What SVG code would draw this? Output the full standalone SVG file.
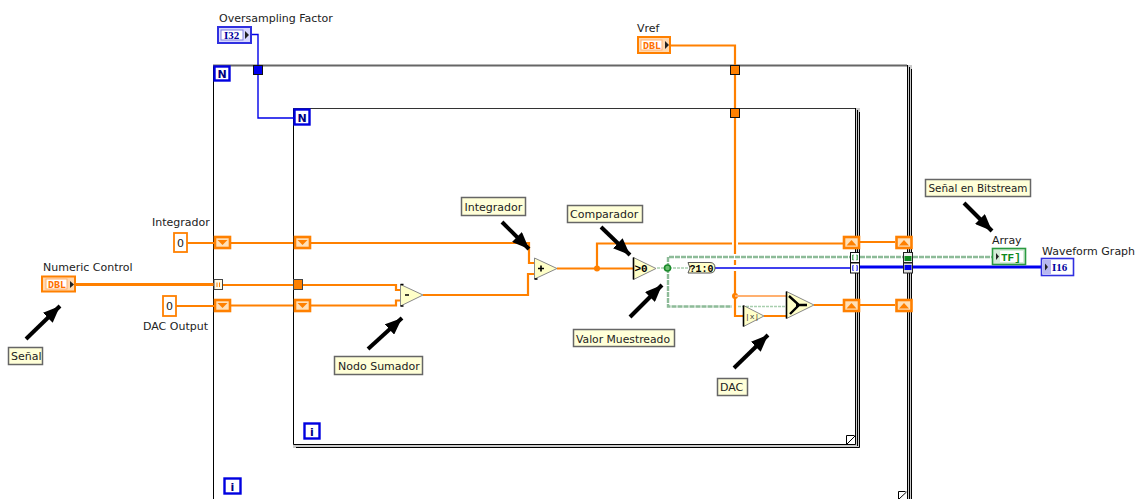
<svg xmlns="http://www.w3.org/2000/svg" width="1141" height="499" viewBox="0 0 1141 499">
<style>
.t{font-family:"DejaVu Sans","Noto Sans",sans-serif;font-size:11px;fill:#222}
.n{fill:#ffffd8;stroke:#666;stroke-width:1.5}
.or{fill:none;stroke:#ff8000;stroke-width:2.2}
.orb{fill:none;stroke:#ff8000;stroke-width:3}
.pale{fill:none;stroke:#ffb070;stroke-width:2}
.bl{fill:none;stroke:#0000e8;stroke-width:1.4}
.blb{fill:none;stroke:#0000f0;stroke-width:3}
.gr{fill:none;stroke:#8dbb98;stroke-width:2.4;stroke-dasharray:5 1}
.gr2{fill:none;stroke:#a8cfae;stroke-width:1.6;stroke-dasharray:3 1}
.gap{fill:none;stroke:#fff;stroke-width:4}
.arr{fill:none;stroke:#000;stroke-width:4;marker-end:url(#ah)}
.tri{fill:#ffffc8;stroke:#888;stroke-width:1}
.tk{fill:none;stroke:#000;stroke-width:1.6}
.ic{font-family:"Liberation Mono",monospace;font-weight:700;font-size:10px}
.is{font-family:"Liberation Serif",serif;font-weight:700;font-size:11px}
.lb{fill:none;stroke:#000}
.lg{fill:#ccc}
.nb{fill:#fff;stroke:#0000e0;stroke-width:2.4}
.nt{font-family:"DejaVu Sans",sans-serif;font-weight:700;font-size:11px;fill:#000080}
</style>
<defs>
<marker id="ah" markerUnits="userSpaceOnUse" markerWidth="18" markerHeight="14" refX="17" refY="7" orient="auto"><polygon points="0,0 17,7 0,14" fill="#000"/></marker>
<g id="srd"><rect x="1" y="1" width="15" height="11" fill="#ffe0b8" stroke="#ff8000" stroke-width="2.6"/><polygon points="3.5,4 13.5,4 8.5,9" fill="#ff8000"/></g>
<g id="sru"><rect x="1" y="1" width="15" height="11" fill="#ffe0b8" stroke="#ff8000" stroke-width="2.6"/><polygon points="3.5,9.5 13.5,9.5 8.5,4" fill="#ff8000"/></g>
</defs>

<g id="outer-loop">
<rect x="907" y="65" width="5" height="434" class="lg"/>
<path class="lb" d="M213.5 499V65.5"/><path d="M213 65.5H907" stroke="#666" stroke-width="2"/>
<path class="lb" d="M907.5 65V499M909.5 67V499M911.5 69V499"/>
<path class="lb" d="M905.5 491.5H898.5V499M906.5 492L899 499"/>
<g id="loop-n-outer"><rect class="nb" x="214.5" y="66.5" width="15" height="14"/><text class="nt" x="222" y="78" text-anchor="middle">N</text></g>
<g id="loop-i-outer"><rect class="nb" x="224.5" y="478.5" width="16" height="15"/><text class="nt" x="232.500" y="491" text-anchor="middle">i</text></g>
</g>

<g id="inner-loop">
<rect x="855" y="108" width="5" height="340" class="lg"/><rect x="293" y="444" width="567" height="4" class="lg"/>
<path class="lb" d="M293.5 444.500V108.500"/><path d="M293 108.500H855" stroke="#333" stroke-width="1.2"/>
<path class="lb" d="M855.5 108V444.500H293.500M857.500 110V446M859.500 112V447.500H296"/>
<path class="lb" d="M854.500 435.500H846.500V444M855 436L847 444"/>
<g id="loop-n-inner"><rect class="nb" x="294.500" y="109.500" width="15" height="15"/><text class="nt" x="302" y="121.500" text-anchor="middle">N</text></g>
<g id="loop-i-inner"><rect class="nb" x="304.500" y="423.500" width="15" height="15"/><text class="nt" x="312" y="436" text-anchor="middle">i</text></g>
</g>

<g id="connectors">
<path class="bl" d="M250 34.500H258V118H294"/>
<path class="or" d="M670 45.500H735V316H743"/>
<path class="or" d="M187 243H214M231 243H293M311 243H529V263H534"/>
<path class="orb" d="M76 284.500H214"/>
<path class="or" d="M222 285H293M302 285H396V290H400"/>
<path class="or" d="M176 306H214M231 305.500H293M311 305.500H396V300.500H400"/>
<path class="or" d="M423 295H528V274H534"/>
<path class="or" d="M557 268.500H633"/>
<path class="or" d="M597 268.500V243.500H732M738 243.500H843M860 242H895"/>
<circle cx="597" cy="268.500" r="3" fill="#ff8000"/>
<circle cx="735" cy="296" r="3" fill="#ff8000"/>
<path class="pale" d="M735 296H786"/>
<path class="or" d="M764 316H786M814 305H843M860 305H895"/>
<path class="gap" d="M735 254V260M735 265V271"/>
<path class="gr" d="M668 268V257H850M860 257H903M913 257H992"/>
<path class="gr" d="M668 268V306.500H732"/>
<path class="gr2" d="M738 306.500H786"/>
<path class="gr2" d="M657 268H688"/>
<circle cx="667.500" cy="268" r="3" fill="#6cbf70" stroke="#1a8a2a" stroke-width="1.6"/>
<path class="bl" d="M715 268H850"/>
<path class="blb" d="M860 267H1041"/>
<g id="arrows">
<path class="arr" d="M26 339L60 306"/>
<path class="arr" d="M502 222L529 249"/>
<path class="arr" d="M368 349L402 318"/>
<path class="arr" d="M601 227L630 255"/>
<path class="arr" d="M630 317L662 285"/>
<path class="arr" d="M734 368L768 335"/>
<path class="arr" d="M964 203L992 231"/>
</g>
</g>

<g id="oversampling-factor"><rect x="218" y="27" width="33" height="16" fill="#d8d8ff" stroke="#3030e0" stroke-width="2"/><rect x="221" y="30" width="22" height="10" fill="#fff" stroke="#8080e0"/><text class="is" x="224" y="38.500" fill="#0000a0">I32</text><polygon points="245,31 249,35 245,39" fill="#222"/><text class="t" x="219" y="21.500">Oversampling Factor</text></g>
<g id="vref"><rect x="638" y="37" width="32" height="16" fill="#ffd8b0" stroke="#ff8000" stroke-width="2"/><rect x="641" y="40" width="21" height="10" fill="#fff" stroke="#ffb070"/><text class="ic" x="643" y="48.500" fill="#ff7000">DBL</text><polygon points="665,41 669,45 665,49" fill="#222"/><text class="t" x="637" y="31.500">Vref</text></g>
<g id="numeric-control"><rect x="42" y="276.500" width="33" height="15" fill="#ffd8b0" stroke="#ff8000" stroke-width="2"/><rect x="46" y="279" width="21" height="10" fill="#fff" stroke="#ffb070"/><text class="ic" x="48" y="288" fill="#ff7000">DBL</text><polygon points="70,281 74,284.500 70,288" fill="#222"/><text class="t" x="43" y="270.500">Numeric Control</text></g>
<g id="integrador-const"><rect x="174" y="233" width="13" height="19" fill="#fff" stroke="#ff8000" stroke-width="1.8"/><text class="t" x="180.500" y="247" text-anchor="middle">0</text><text class="t" x="152" y="226">Integrador</text></g>
<g id="dac-output-const"><rect x="163" y="296" width="13" height="20" fill="#fff" stroke="#ff8000" stroke-width="1.8"/><text class="t" x="169.500" y="310" text-anchor="middle">0</text><text class="t" x="143" y="329.500">DAC Output</text></g>

<g id="shift-registers">
<use href="#srd" x="214" y="236"/><use href="#srd" x="294" y="236"/>
<use href="#srd" x="214" y="299"/><use href="#srd" x="294" y="299"/>
<use href="#sru" x="843" y="236"/><use href="#sru" x="895.500" y="236"/>
<use href="#sru" x="843" y="299"/><use href="#sru" x="895.500" y="299"/>
</g>
<g id="tunnels">
<rect x="214" y="279.500" width="8.500" height="10" fill="#fffce8" stroke="#444"/><path d="M217 282.500V287M219.500 282.500V287" stroke="#ff8000"/>
<rect x="293.500" y="279.500" width="9" height="10" fill="#ff8000" stroke="#444"/>
<rect x="253.500" y="65.500" width="9" height="9" fill="#0000f0" stroke="#111"/>
<rect x="730.500" y="65.500" width="9" height="9" fill="#ff8000" stroke="#111"/>
<rect x="730.500" y="108.500" width="9" height="9" fill="#ff8000" stroke="#111"/>
<rect x="850.500" y="252.500" width="9" height="10" fill="#fff" stroke="#111"/><path d="M853.500 255H852.800V260H853.500M856.500 255H857.200V260H856.500" stroke="#108a20" fill="none"/>
<rect x="850.500" y="263" width="9" height="10" fill="#fff" stroke="#111"/><path d="M853.500 265.500H852.800V270.500H853.500M856.500 265.500H857.200V270.500H856.500" stroke="#0000f0" fill="none"/>
<rect x="903.500" y="252.500" width="9" height="10" fill="#eee" stroke="#222"/><rect x="904.500" y="256" width="7" height="5" fill="#108a20"/>
<rect x="903.500" y="263" width="9" height="10" fill="#ddd" stroke="#222"/><rect x="904.500" y="265" width="7" height="5" fill="#0000f0"/>
</g>

<g id="subtract"><polygon class="tri" points="400.500,284.500 423,295 400.500,306"/><path class="tk" d="M400.500 284.500h3M400.500 306h3"/><path d="M405 295h4" stroke="#000" stroke-width="1.500"/></g>
<g id="add"><polygon class="tri" points="534.500,258 557,268.500 534.500,279"/><path class="tk" d="M534.500 279h3"/><path d="M538 268.500h6M541 265.500v6" stroke="#000" stroke-width="1.600"/></g>
<g id="compare"><polygon class="tri" points="633.500,257.500 656,268.500 633.500,279.500"/><path class="tk" d="M633.500 257.500V279.500"/><text class="ic" x="634.500" y="272" fill="#000" style="font-size:11px">&gt;0</text></g>
<g id="bool-to-int"><path d="M688 262.500H710Q715 262.500 715 268Q715 273 710 273H688L690 268Z" fill="#ffffc8" stroke="#555"/><text class="ic" x="689.500" y="271.500" fill="#000" style="font-size:10px">?1:0</text></g>
<g id="abs"><polygon class="tri" points="743.500,305.500 764,316 743.500,326.500"/><path class="tk" d="M743.500 305.500V326.500"/><text class="ic" x="745" y="319" fill="#333" style="font-size:8px;font-weight:400">|x|</text></g>
<g id="select"><polygon class="tri" points="786.500,291.500 814,305 786.500,318.500"/><path class="tk" d="M786.500 291.500V318.500"/><path d="M789 296L799 305L790 314M796 305H807" fill="none" stroke="#000" stroke-width="2.4"/></g>
<g id="array-indicator"><rect x="992.500" y="248.500" width="33" height="16" fill="#d4ecd8" stroke="#2a9a40" stroke-width="1.600"/><rect x="1000" y="251" width="23" height="11" fill="#fff"/><text class="ic" x="1001" y="260.500" fill="#108a20" style="font-size:11px">TF]</text><polygon points="996,253 999,256.500 996,260" fill="#222"/><text class="t" x="992" y="244">Array</text></g>
<g id="waveform-graph"><rect x="1041.500" y="258.500" width="32" height="17" fill="#fff" stroke="#3030e0" stroke-width="1.600"/><rect x="1043" y="260" width="8" height="14" fill="#b8b8f0"/><text class="is" x="1052" y="271" fill="#0000a0">I16</text><polygon points="1045,263.500 1048,267 1045,270.500" fill="#222"/><text class="t" x="1042" y="255">Waveform Graph</text></g>

<g id="note-senal"><rect class="n" x="8.500" y="347.500" width="34" height="17"/><text class="t" x="11" y="360">Señal</text></g>
<g id="note-nodo"><rect class="n" x="334.500" y="356.500" width="88" height="18"/><text class="t" x="338" y="369.500">Nodo Sumador</text></g>
<g id="note-integrador"><rect class="n" x="461.500" y="197.500" width="64" height="18"/><text class="t" x="464.500" y="210.500">Integrador</text></g>
<g id="note-comparador"><rect class="n" x="567.500" y="205.500" width="75" height="17"/><text class="t" x="570" y="218">Comparador</text></g>
<g id="note-valor"><rect class="n" x="573.500" y="329.500" width="101" height="17"/><text class="t" x="576" y="342.500" textLength="94" lengthAdjust="spacingAndGlyphs">Valor Muestreado</text></g>
<g id="note-dac"><rect class="n" x="717.500" y="378.500" width="30" height="17"/><text class="t" x="720" y="391">DAC</text></g>
<g id="note-bitstream"><rect class="n" x="925.500" y="179.500" width="105" height="17"/><text class="t" x="928.500" y="192" textLength="99" lengthAdjust="spacingAndGlyphs">Señal en Bitstream</text></g>
</svg>
